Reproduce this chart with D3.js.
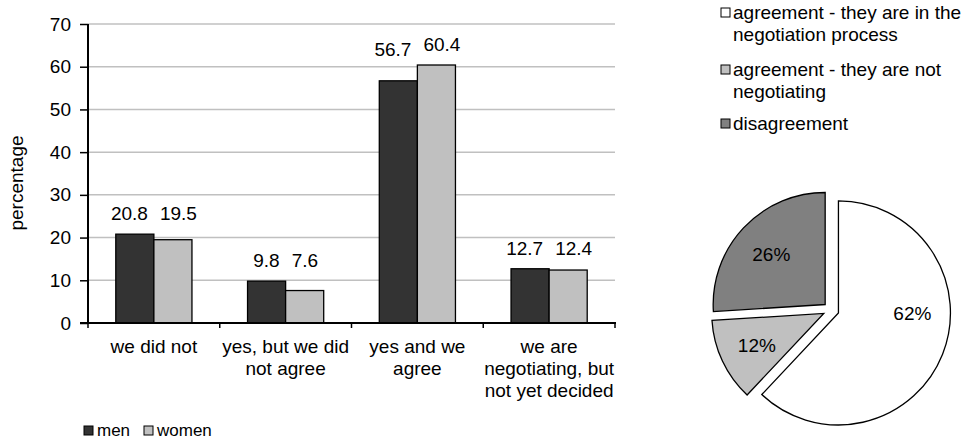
<!DOCTYPE html>
<html>
<head>
<meta charset="utf-8">
<script src="https://cdn.jsdelivr.net/npm/d3@7"></script>
<style>
  html, body { margin: 0; padding: 0; background: #fff; }
  svg { display: block; font-family: "Liberation Sans", Arial, sans-serif; }
</style>
</head>
<body>
<svg id="chart" width="965" height="441"></svg>
<script>
// Bar chart data
const categories = ["we did not", "yes, but we did not agree", "yes and we agree", "we are negotiating, but not yet decided"];
const seriesNames = ["men", "women"];
const menValues = [20.8, 9.8, 56.7, 12.7];
const womenValues = [19.5, 7.6, 60.4, 12.4];
const yTicks = [0, 10, 20, 30, 40, 50, 60, 70];
const yLabel = "percentage";

// Pie chart data
const pieNames = ["agreement - they are in the negotiation process", "agreement - they are not negotiating", "disagreement"];
const pieValues = [62, 12, 26];

const seriesColors = ["#333333", "#c0c0c0"];
const pieColors = ["#ffffff", "#c0c0c0", "#808080"];
const FONT = 19;

const svg = d3.select("#chart");

// ---------- bar chart ----------
const plot = { left: 88, right: 615, top: 24, bottom: 323 };
const y = d3.scaleLinear().domain([0, 70]).range([plot.bottom, plot.top]);
const x0 = d3.scaleBand().domain(categories).range([plot.left, plot.right]).padding(0);
const x1 = d3.scaleBand().domain(seriesNames).range([0, x0.bandwidth()]).paddingInner(0).paddingOuter(0.73);

const rows = categories.map((c, i) => ({ cat: c, values: [menValues[i], womenValues[i]] }));

// gridlines
svg.append("g").selectAll("line").data(yTicks.filter(t => t > 0)).join("line")
  .attr("x1", plot.left).attr("x2", plot.right)
  .attr("y1", d => y(d)).attr("y2", d => y(d))
  .attr("stroke", "#c0c0c0").attr("stroke-width", 1.5);

// bars
const groups = svg.append("g").selectAll("g").data(rows).join("g")
  .attr("transform", d => `translate(${x0(d.cat)},0)`);
groups.selectAll("rect").data(d => d.values.map((v, k) => ({ name: seriesNames[k], v, k }))).join("rect")
  .attr("x", d => x1(d.name)).attr("width", x1.bandwidth())
  .attr("y", d => y(d.v)).attr("height", d => y(0) - y(d.v))
  .attr("fill", d => seriesColors[d.k]).attr("stroke", "#000").attr("stroke-width", 1.3);

// value labels: a pair sits at a common height above the taller bar
groups.each(function (row) {
  const g = d3.select(this);
  const groupTop = y(d3.max(row.values));
  const texts = row.values.map((v, k) => g.append("text")
    .attr("text-anchor", "middle")
    .attr("font-size", FONT)
    .attr("x", x1(seriesNames[k]) + x1.bandwidth() / 2)
    .attr("y", Math.max(y(v) - 25, groupTop - 14))
    .text(v.toFixed(1)));
  // spread the two labels apart when they would crowd each other
  const w = texts.map(t => t.node().getComputedTextLength());
  const cx = texts.map(t => +t.attr("x"));
  const gap = (cx[1] - w[1] / 2) - (cx[0] + w[0] / 2);
  const minGap = 12;
  if (gap < minGap) {
    const shift = (minGap - gap) / 2;
    texts[0].attr("x", cx[0] - shift);
    texts[1].attr("x", cx[1] + shift);
  }
});

// y axis
const yAxis = svg.append("g").attr("transform", `translate(${plot.left},0)`)
  .call(d3.axisLeft(y).tickValues(yTicks).tickSize(8).tickPadding(9).tickFormat(d3.format("d")));
yAxis.select(".domain").remove();
yAxis.selectAll(".tick line").attr("stroke", "#000").attr("stroke-width", 1.5);
yAxis.selectAll(".tick text").attr("font-size", FONT).attr("font-family", null).attr("fill", "#000");
svg.append("line").attr("x1", plot.left).attr("x2", plot.left)
  .attr("y1", plot.top).attr("y2", plot.bottom + 1)
  .attr("stroke", "#000").attr("stroke-width", 2);

// x axis with ticks on category boundaries
svg.append("line").attr("x1", plot.left - 8).attr("x2", plot.right + 1)
  .attr("y1", plot.bottom).attr("y2", plot.bottom)
  .attr("stroke", "#000").attr("stroke-width", 2);
const bounds = categories.map(c => x0(c)).concat([x0.range()[1]]);
svg.append("g").selectAll("line").data(bounds).join("line")
  .attr("x1", d => d).attr("x2", d => d)
  .attr("y1", plot.bottom).attr("y2", plot.bottom + 5)
  .attr("stroke", "#000").attr("stroke-width", 1.5);

// word-wrap helper
function wrapText(textSel, words, maxWidth, x, lineHeight) {
  let line = [];
  let tspan = textSel.append("tspan").attr("x", x).attr("dy", 0);
  words.forEach(word => {
    line.push(word);
    tspan.text(line.join(" "));
    if (tspan.node().getComputedTextLength() > maxWidth && line.length > 1) {
      line.pop();
      tspan.text(line.join(" "));
      line = [word];
      tspan = textSel.append("tspan").attr("x", x).attr("dy", lineHeight).text(word);
    }
  });
}

// category labels
categories.forEach(c => {
  const cx = x0(c) + x0.bandwidth() / 2;
  const t = svg.append("text").attr("font-size", FONT).attr("text-anchor", "middle")
    .attr("y", 353);
  wrapText(t, c.split(" "), x0.bandwidth() + 4, cx, 22);
});

// y axis title
svg.append("text").attr("font-size", FONT).attr("text-anchor", "middle")
  .attr("transform", "translate(23,183) rotate(-90)")
  .text(yLabel);

// bar legend
const legend = svg.append("g").attr("transform", "translate(84,426)");
const legendItems = legend.selectAll("g").data(seriesNames).join("g")
  .attr("transform", (d, i) => `translate(${i * 60},0)`);
legendItems.append("rect").attr("width", 9).attr("height", 9)
  .attr("fill", (d, i) => seriesColors[i]).attr("stroke", "#000").attr("stroke-width", 1);
legendItems.append("text").attr("x", 13).attr("y", 10).attr("font-size", 17).text(d => d);

// ---------- pie chart ----------
const pieCenter = [831, 310];
const radius = 112;
const explode = 8;
const pie = d3.pie().sort(null).startAngle(0).endAngle(2 * Math.PI);
const arcs = pie(pieValues);
const arc = d3.arc().innerRadius(0).outerRadius(radius);

const pieG = svg.append("g").attr("transform", `translate(${pieCenter[0]},${pieCenter[1]})`);
const slice = pieG.selectAll("g").data(arcs).join("g")
  .attr("transform", d => {
    const a = (d.startAngle + d.endAngle) / 2;
    return `translate(${Math.sin(a) * explode},${-Math.cos(a) * explode})`;
  });
slice.append("path").attr("d", arc)
  .attr("fill", (d, i) => pieColors[i]).attr("stroke", "#000").attr("stroke-width", 1.3)
  .attr("stroke-linejoin", "miter");
// large slices keep their label on the horizontal through the centre
const labelAngle = d => (d.endAngle - d.startAngle > Math.PI) ? Math.PI / 2 : (d.startAngle + d.endAngle) / 2;
slice.append("text")
  .attr("font-size", FONT).attr("text-anchor", "middle").attr("dy", "0.35em")
  .attr("x", d => Math.sin(labelAngle(d)) * radius * 0.66)
  .attr("y", d => -Math.cos(labelAngle(d)) * radius * 0.66)
  .text(d => Math.round(d.value / d3.sum(pieValues) * 100) + "%");

// pie legend
const pl = svg.append("g").attr("transform", "translate(721,0)");
const rowStarts = [8, 65, 119];
pieNames.forEach((name, i) => {
  const g = pl.append("g").attr("transform", `translate(0,${rowStarts[i]})`);
  g.append("rect").attr("width", 9).attr("height", 9)
    .attr("fill", pieColors[i]).attr("stroke", "#000").attr("stroke-width", 1);
  const t = g.append("text").attr("font-size", FONT).attr("y", 11);
  wrapText(t, name.split(" "), 236, 12, 22);
});
</script>
</body>
</html>
